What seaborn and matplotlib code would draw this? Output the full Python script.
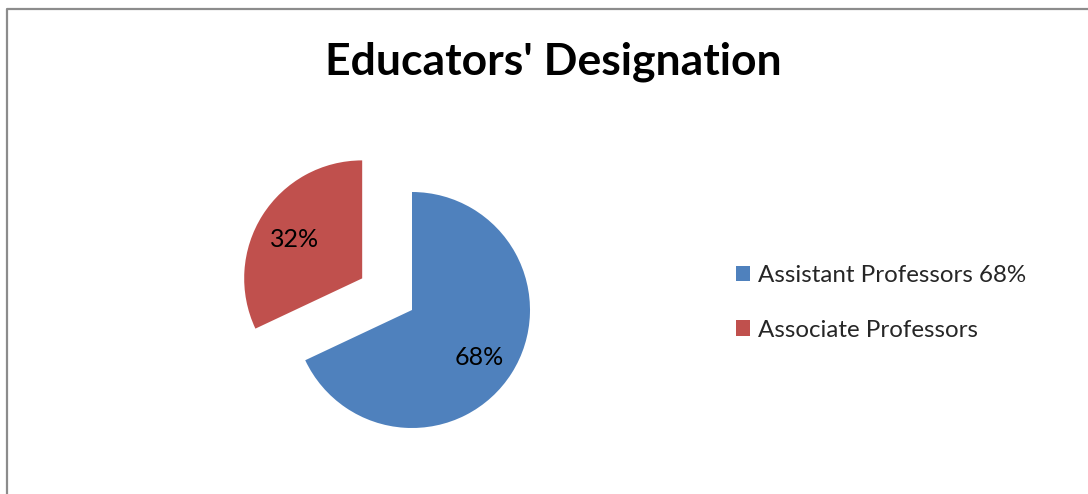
import matplotlib
matplotlib.use("Agg")
import matplotlib.pyplot as plt
import seaborn as sns
from matplotlib.patches import Rectangle
from matplotlib.lines import Line2D

sns.set_theme(style="white")
plt.rcParams['font.family'] = ['Lato', 'DejaVu Sans']

title = "Educators' Designation"
categories = ["Assistant Professors 68%", "Associate Professors"]
values = [68, 32]
colors = ["#4F81BD", "#C0504D"]
explode = [0, 0.5]

W, H = 1088, 494
fig = plt.figure(figsize=(W / 100, H / 100), dpi=100)

# border (top and left visible)
fig.add_artist(Line2D([6.5 / W, 6.5 / W, 1.0], [0, 1 - 9.5 / H, 1 - 9.5 / H],
                      transform=fig.transFigure, color="#8C8C8C", lw=1.6))

cx, cy, r = 412, 310, 118
L = 2.0
S = 2 * L * r
ax = fig.add_axes([(cx - S / 2) / W, 1 - (cy + S / 2) / H, S / W, S / H])
wedges, texts, autotexts = ax.pie(values, colors=colors, explode=explode,
                                  startangle=90, counterclock=False,
                                  autopct="%d%%", pctdistance=0.68,
                                  wedgeprops=dict(linewidth=0),
                                  textprops=dict(fontsize=18, color="black"))
for t in autotexts:
    x, y = t.get_position()
    t.set_position((x, y - 0.035))
ax.set_xlim(-L, L)
ax.set_ylim(-L, L)
ax.set_aspect("equal")
ax.axis("off")

fig.text(553 / W, 1 - 62 / H, title, ha="center", va="center",
         fontsize=32, fontweight="bold", color="black")

handles = [Rectangle((0, 0), 1, 1, facecolor=c, edgecolor="none") for c in colors]
fig.legend(handles, categories, loc="center left",
           bbox_to_anchor=(714 / W, 1 - 303 / H), frameon=False,
           fontsize=17.4, handlelength=0.6, handleheight=0.6,
           handletextpad=0.33, labelspacing=1.38)

fig.savefig("out.png", dpi=100)
